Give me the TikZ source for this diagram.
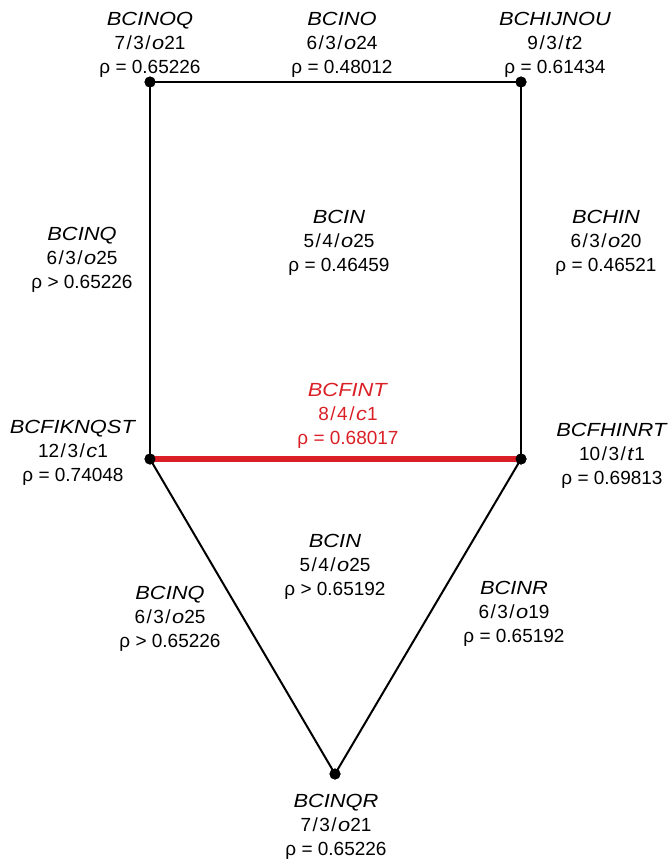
\documentclass[tikz,border=0pt]{standalone}
\usepackage{fontspec}
\setmainfont{Liberation Sans}[ItalicFeatures={FakeStretch=1.15}]
\definecolor{myred}{RGB}{218,32,38}
\newcommand{\sls}{\kern1.5pt/\kern1.5pt}
\begin{document}
\begin{tikzpicture}[x=1pt,y=-1pt,
  dot/.style={circle,fill=black,inner sep=0pt,minimum size=11pt},
  lbl/.style={align=center,inner sep=0pt,font=\fontsize{19}{24}\selectfont},
  edge/.style={line width=2pt,black},
  redge/.style={line width=6pt,myred}]
\useasboundingbox (0,0) rectangle (671,862);
\node[dot] (tl) at (150,82) {};
\node[dot] (tr) at (521,82) {};
\node[dot] (ml) at (150,459) {};
\node[dot] (mr) at (521,459) {};
\node[dot] (bt) at (335,774) {};
\draw[edge] (tl.center) -- (tr.center);
\draw[edge] (tl.center) -- (ml.center);
\draw[edge] (tr.center) -- (mr.center);
\draw[edge] (ml.center) -- (bt.center);
\draw[edge] (mr.center) -- (bt.center);
\draw[redge] (ml.center) -- (mr.center);
\node[dot] at (tl) {};
\node[dot] at (tr) {};
\node[dot] at (ml) {};
\node[dot] at (mr) {};
\node[dot] at (bt) {};
\node[lbl] (l1) at (150,45) {\textit{BCINOQ}\\7\sls3\sls\textit{o}21\\ρ = 0.65226};
\node[lbl] (l2) at (342,45) {\textit{BCINO}\\6\sls3\sls\textit{o}24\\ρ = 0.48012};
\node[lbl] (l3) at (555,45) {\textit{BCHIJNOU}\\9\sls3\sls\textit{t}2\\ρ = 0.61434};
\node[lbl] (l4) at (82,260) {\textit{BCINQ}\\6\sls3\sls\textit{o}25\\ρ > 0.65226};
\node[lbl] (l5) at (339,243) {\textit{BCIN}\\5\sls4\sls\textit{o}25\\ρ = 0.46459};
\node[lbl] (l6) at (606,243) {\textit{BCHIN}\\6\sls3\sls\textit{o}20\\ρ = 0.46521};
\node[lbl,text=myred] (l7) at (348,416) {\textit{BCFINT}\\8\sls4\sls\textit{c}1\\ρ = 0.68017};
\node[lbl] (l8) at (73,453) {\textit{BCFIKNQST}\\12\sls3\sls\textit{c}1\\ρ = 0.74048};
\node[lbl] (l9) at (612,456) {\textit{BCFHINRT}\\10\sls3\sls\textit{t}1\\ρ = 0.69813};
\node[lbl] (l10) at (335,567) {\textit{BCIN}\\5\sls4\sls\textit{o}25\\ρ > 0.65192};
\node[lbl] (l11) at (170,619) {\textit{BCINQ}\\6\sls3\sls\textit{o}25\\ρ > 0.65226};
\node[lbl] (l12) at (514,614) {\textit{BCINR}\\6\sls3\sls\textit{o}19\\ρ = 0.65192};
\node[lbl] (l13) at (336,827) {\textit{BCINQR}\\7\sls3\sls\textit{o}21\\ρ = 0.65226};
\end{tikzpicture}
\end{document}
